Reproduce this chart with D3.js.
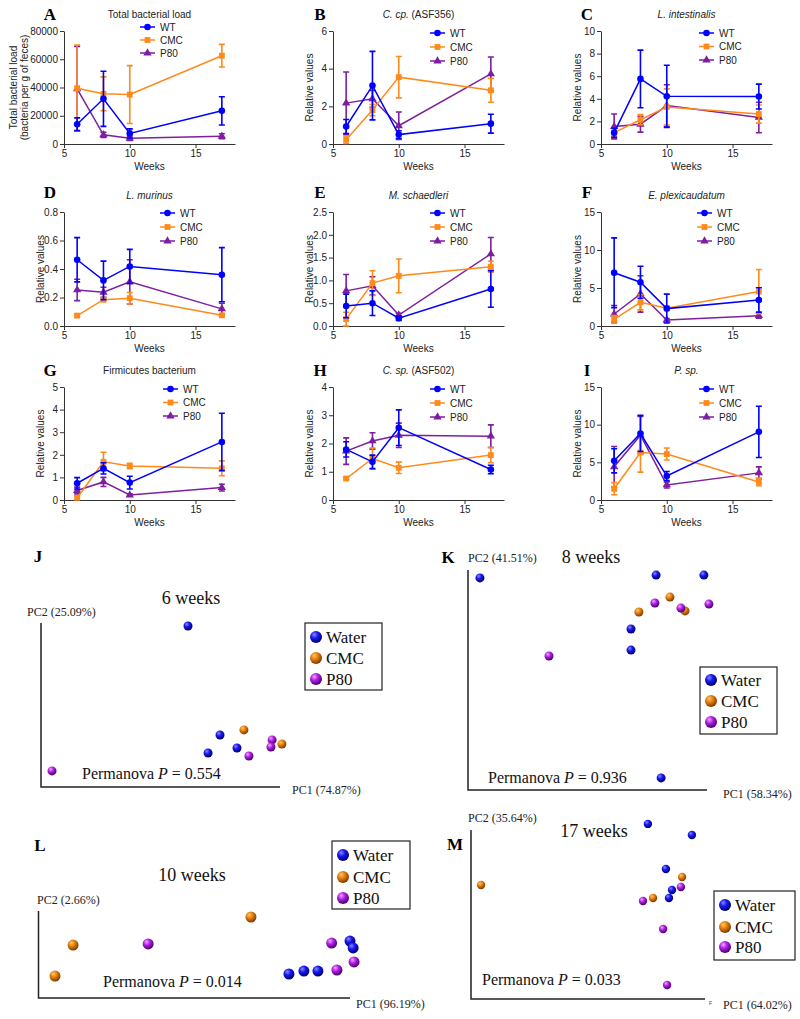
<!DOCTYPE html>
<html>
<head>
<meta charset="utf-8">
<script src="https://cdn.jsdelivr.net/npm/d3@7"></script>
<style>
  body { margin: 0; background: #fff; }
  svg { display: block; }
</style>
</head>
<body>
<svg width="800" height="1019"></svg>
<script>
// ---- data: time course (mean, sem), series order WT, CMC, P80
const weeks = [6, 8, 10, 17];
const groups = ["WT", "CMC", "P80"];
const groupColors = ["#0000ff", "#ff8a1a", "#7d1f9f"];

const loadMean = [[14000, 32000, 7500, 23500], [39500, 35500, 35000, 62500], [39000, 6500, 4000, 5500]];
const loadSem  = [[4500, 19500, 3200, 10000], [30500, 12000, 20500, 8000], [30000, 1800, 1500, 1800]];

const ccpMean = [[0.93, 3.1, 0.5, 1.08], [0.23, 1.8, 3.55, 2.85], [2.17, 2.4, 0.97, 3.72]];
const ccpSem  = [[0.37, 1.82, 0.2, 0.5], [0.2, 0.3, 1.1, 0.63], [1.65, 0.45, 0.73, 0.9]];

const lintMean = [[1.0, 5.76, 4.22, 4.2], [1.0, 2.15, 3.28, 2.65], [1.55, 1.75, 3.4, 2.35]];
const lintSem  = [[0.4, 2.55, 2.75, 1.1], [0.35, 0.45, 1.6, 0.8], [1.1, 0.7, 1.85, 1.35]];

const lmurMean = [[0.465, 0.32, 0.418, 0.36], [0.073, 0.185, 0.195, 0.075], [0.253, 0.237, 0.31, 0.12]];
const lmurSem  = [[0.155, 0.135, 0.12, 0.19], [0.012, 0.012, 0.04, 0.01], [0.075, 0.035, 0.155, 0.04]];

const mschMean = [[0.44, 0.5, 0.17, 0.81], [0.15, 0.94, 1.1, 1.3], [0.77, 0.88, 0.24, 1.58]];
const mschSem  = [[0.26, 0.27, 0.05, 0.4], [0.15, 0.27, 0.37, 0.12], [0.36, 0.2, 0.04, 0.36]];

const eplMean = [[7.0, 5.76, 2.29, 3.43], [0.88, 3.12, 2.33, 4.53], [1.58, 4.22, 0.79, 1.36]];
const eplSem  = [[4.6, 2.1, 1.9, 1.6], [0.5, 1.0, 0.3, 2.9], [1.1, 2.4, 0.2, 0.35]];

const firmMean = [[0.74, 1.4, 0.77, 2.57], [0.1, 1.69, 1.5, 1.4], [0.42, 0.8, 0.22, 0.55]];
const firmSem  = [[0.25, 0.25, 0.28, 1.27], [0.08, 0.42, 0.12, 0.33], [0.15, 0.2, 0.05, 0.15]];

const cspMean = [[1.79, 1.35, 2.56, 1.08], [0.76, 1.47, 1.14, 1.59], [1.73, 2.09, 2.29, 2.26]];
const cspSem  = [[0.27, 0.24, 0.63, 0.15], [0.04, 0.37, 0.2, 0.27], [0.47, 0.29, 0.43, 0.4]];

const pspMean = [[5.2, 8.83, 3.18, 9.05], [1.5, 6.3, 6.1, 2.4], [4.4, 8.6, 2.0, 3.6]];
const pspSem  = [[1.6, 2.4, 0.6, 3.4], [0.8, 2.6, 0.8, 0.5], [2.7, 2.5, 0.4, 0.8]];

// ---- data: PCoA positions, [PC1, PC2] in % of plotted axis span
const pcoaGroups = ["Water", "CMC", "P80"];
const j_water = [[61.5, 98.2], [74.9, 31.7], [69.9, 20.7], [82.0, 23.8]];
const j_cmc   = [[84.9, 34.8], [100.8, 26.2]];
const j_p80   = [[96.7, 28.7], [96.2, 24.4], [87.0, 18.9], [4.6, 9.8]];

const k_water = [[5.0, 96.4], [78.7, 97.7], [98.7, 97.7], [68.2, 73.2], [68.2, 63.6], [80.8, 5.5]];
const k_cmc   = [[71.5, 80.9], [84.5, 87.7], [90.8, 81.4]];
const k_p80   = [[78.2, 85.0], [89.1, 82.7], [100.8, 84.5], [33.9, 60.9]];

const l_water = [[80.4, 27.6], [85.2, 31.0], [89.7, 31.0], [100.0, 65.5], [101.0, 57.5]];
const l_cmc   = [[5.3, 25.3], [11.1, 60.9], [68.2, 93.1]];
const l_p80   = [[35.2, 62.1], [94.1, 63.2], [95.8, 32.2], [101.3, 41.4]];

const m_water = [[75.6, 103.6], [94.4, 97.0], [83.3, 76.9], [85.9, 64.5], [84.6, 59.8]];
const m_cmc   = [[4.3, 67.5], [90.2, 72.2], [77.8, 59.8]];
const m_p80   = [[89.7, 66.3], [73.5, 58.0], [82.1, 41.4], [83.8, 8.3]];

// ---- layout
const svg = d3.select("svg");
const sans = "'Liberation Sans', Arial, sans-serif";
const serif = "'Liberation Serif', 'Times New Roman', serif";

const colX = [64, 333, 601];
const rowY = [[31, 144], [212, 326], [387, 500]];

const linePanels = [
  {letter: "A", col: 0, row: 0, title: [["Total bacterial load", false]], ylab: ["Total bacterial load", "(bacteria per g of feces)"],
   mean: loadMean, sem: loadSem, ymax: 80000, ticks: [0, 20000, 40000, 60000, 80000], fmt: d3.format("d"), leg: [140, 27, 13]},
  {letter: "B", col: 1, row: 0, title: [["C. cp.", true], [" (ASF356)", false]], ylab: ["Relative values"],
   mean: ccpMean, sem: ccpSem, ymax: 6, ticks: [0, 2, 4, 6], fmt: d3.format("d"), leg: [430, 33, 14]},
  {letter: "C", col: 2, row: 0, title: [["L. intestinalis", true]], ylab: ["Relative values"],
   mean: lintMean, sem: lintSem, ymax: 10, ticks: [0, 2, 4, 6, 8, 10], fmt: d3.format("d"), leg: [699, 33, 13.5]},
  {letter: "D", col: 0, row: 1, title: [["L. murinus", true]], ylab: ["Relative values"],
   mean: lmurMean, sem: lmurSem, ymax: 0.8, ticks: [0, 0.2, 0.4, 0.6, 0.8], fmt: d3.format(".1f"), leg: [160, 213, 14]},
  {letter: "E", col: 1, row: 1, title: [["M. schaedleri", true]], ylab: ["Relative values"],
   mean: mschMean, sem: mschSem, ymax: 2.5, ticks: [0, 0.5, 1, 1.5, 2, 2.5], fmt: d3.format(".1f"), leg: [430, 213, 14]},
  {letter: "F", col: 2, row: 1, title: [["E. plexicaudatum", true]], ylab: ["Relative values"],
   mean: eplMean, sem: eplSem, ymax: 15, ticks: [0, 5, 10, 15], fmt: d3.format("d"), leg: [697, 213, 14]},
  {letter: "G", col: 0, row: 2, title: [["Firmicutes bacterium", false]], ylab: ["Relative values"],
   mean: firmMean, sem: firmSem, ymax: 5, ticks: [0, 1, 2, 3, 4, 5], fmt: d3.format("d"), leg: [163, 389, 13.5]},
  {letter: "H", col: 1, row: 2, title: [["C. sp.", true], [" (ASF502)", false]], ylab: ["Relative values"],
   mean: cspMean, sem: cspSem, ymax: 4, ticks: [0, 1, 2, 3, 4], fmt: d3.format("d"), leg: [430, 389, 14]},
  {letter: "I", col: 2, row: 2, title: [["P. sp.", true]], ylab: ["Relative values"],
   mean: pspMean, sem: pspSem, ymax: 15, ticks: [0, 5, 10, 15], fmt: d3.format("d"), leg: [699, 389, 14]}
];

const titleY = [14, 195, 370];
const letterY = [20, 198, 376];
const letterX = [50, 320, 587];

const symbols = [d3.symbolCircle, d3.symbolSquare, d3.symbolTriangle];
const symSize = [34, 34, 30];

function styleAxis(g) {
  g.selectAll("path, line").attr("stroke", "#333").attr("stroke-width", 1);
  g.selectAll("text").attr("fill", "#222").style("font-family", sans).style("font-size", "10px");
}

function linePanel(p) {
  let x0 = colX[p.col];
  let [yTop, yBot] = rowY[p.row];
  let x = d3.scaleLinear().domain([5, 18]).range([x0, x0 + 171]);
  let y = d3.scaleLinear().domain([0, p.ymax]).range([yBot, yTop]);
  let g = svg.append("g");

  g.append("g")
    .attr("transform", `translate(0,${yBot})`)
    .call(d3.axisBottom(x).tickValues([5, 10, 15]).tickSize(4).tickSizeOuter(0).tickPadding(2))
    .call(styleAxis);
  g.append("g")
    .attr("transform", `translate(${x0},0)`)
    .call(d3.axisLeft(y).tickValues(p.ticks).tickFormat(p.fmt).tickSize(4).tickSizeOuter(0).tickPadding(2))
    .call(styleAxis);

  // x title
  g.append("text")
    .attr("x", x0 + 85.5).attr("y", yBot + 22)
    .attr("text-anchor", "middle").attr("dominant-baseline", "central")
    .style("font-family", sans).style("font-size", "10px").attr("fill", "#222")
    .text("Weeks");

  // y title
  let yMid = (yTop + yBot) / 2;
  p.ylab.forEach((t, i) => {
    let lx = p.ylab.length == 2 ? 13 + i * 11 : x0 - 24;
    g.append("text")
      .attr("transform", `translate(${lx},${yMid}) rotate(-90)`)
      .attr("text-anchor", "middle").attr("dominant-baseline", "central")
      .style("font-family", sans).style("font-size", "10px").attr("fill", "#222")
      .text(t);
  });

  // panel title
  let tt = g.append("text")
    .attr("x", x0 + 85.5).attr("y", titleY[p.row])
    .attr("text-anchor", "middle").attr("dominant-baseline", "central")
    .style("font-family", sans).style("font-size", "10px").attr("fill", "#222");
  p.title.forEach(([s, it]) => tt.append("tspan").style("font-style", it ? "italic" : "normal").text(s));

  // letter
  g.append("text")
    .attr("x", letterX[p.col]).attr("y", letterY[p.row])
    .attr("text-anchor", "middle")
    .style("font-family", serif).style("font-weight", "bold").style("font-size", "17px")
    .text(p.letter);

  // series, drawn with WT last so it sits on top
  [2, 1, 0].forEach(k => {
    let col = groupColors[k];
    let pts = weeks.map((w, i) => ({w: w, m: p.mean[k][i], s: p.sem[k][i]}));
    let sg = g.append("g");
    sg.selectAll(".err")
      .data(pts)
      .enter()
      .append("path")
      .attr("class", "err")
      .attr("d", d => {
        let lo = y(Math.max(0, d.m - d.s)), hi = y(d.m + d.s), cx = x(d.w);
        return `M${cx},${lo}V${hi}M${cx - 3},${hi}H${cx + 3}M${cx - 3},${lo}H${cx + 3}`;
      })
      .attr("fill", "none").attr("stroke", col).attr("stroke-width", 1.6);
    sg.append("path")
      .datum(pts)
      .attr("d", d3.line().x(d => x(d.w)).y(d => y(d.m)))
      .attr("fill", "none").attr("stroke", col).attr("stroke-width", 1.5);
    sg.selectAll(".pt")
      .data(pts)
      .enter()
      .append("path")
      .attr("class", "pt")
      .attr("transform", d => `translate(${x(d.w)},${y(d.m)})`)
      .attr("d", d3.symbol().type(symbols[k]).size(symSize[k]))
      .attr("fill", col);
  });

  // legend
  let [lx, ly, dy] = p.leg;
  groups.forEach((name, k) => {
    let yy = ly + k * dy;
    g.append("line").attr("x1", lx).attr("x2", lx + 15).attr("y1", yy).attr("y2", yy)
      .attr("stroke", groupColors[k]).attr("stroke-width", 1.5);
    g.append("path").attr("transform", `translate(${lx + 7.5},${yy})`)
      .attr("d", d3.symbol().type(symbols[k]).size(symSize[k])).attr("fill", groupColors[k]);
    g.append("text").attr("x", lx + 20).attr("y", yy)
      .attr("dominant-baseline", "central")
      .style("font-family", sans).style("font-size", "10px").attr("fill", "#222")
      .text(name);
  });
}

linePanels.forEach(linePanel);

// ---- PCoA panels
const sphereColors = [
  ["#8a8aff", "#1818f0", "#00006a"],
  ["#ffc870", "#e8800c", "#7a3a00"],
  ["#f7a8ff", "#b020e8", "#4a0066"]
];
let defs = svg.append("defs");
sphereColors.forEach((c, i) => {
  let gr = defs.append("radialGradient").attr("id", "sph" + i)
    .attr("cx", "40%").attr("cy", "35%").attr("r", "65%").attr("fx", "35%").attr("fy", "30%");
  gr.append("stop").attr("offset", "0%").attr("stop-color", c[0]);
  gr.append("stop").attr("offset", "45%").attr("stop-color", c[1]);
  gr.append("stop").attr("offset", "100%").attr("stop-color", c[2]);
});

const pcoaPanels = [
  {letter: "J", lx: 38, ly: 562, title: "6 weeks", tx: 191, ty: 604, pc2: "PC2 (25.09%)", p2x: 27, p2y: 616,
   pc1: "PC1 (74.87%)", p1x: 292, p1y: 794, box: [41, 623, 280, 787], perm: "0.554", px: 82, py: 779,
   leg: [305, 623, 77, 67], legY: [637, 658, 679], r: 4.5, pts: [j_water, j_cmc, j_p80]},
  {letter: "K", lx: 448, ly: 563, title: "8 weeks", tx: 591, ty: 563, pc2: "PC2 (41.51%)", p2x: 468, p2y: 562,
   pc1: "PC1 (58.34%)", p1x: 723, p1y: 798, box: [468, 570, 707, 790], perm: "0.936", px: 488, py: 783,
   leg: [700, 667, 77, 67], legY: [680, 701, 722], r: 4.5, pts: [k_water, k_cmc, k_p80]},
  {letter: "L", lx: 40, ly: 851, title: "10 weeks", tx: 192, ty: 881, pc2: "PC2 (2.66%)", p2x: 37, p2y: 904,
   pc1: "PC1 (96.19%)", p1x: 356, p1y: 1008, box: [38.5, 911, 350, 998], perm: "0.014", px: 103, py: 987,
   leg: [332, 841, 78, 68], legY: [855, 877, 898], r: 5.5, pts: [l_water, l_cmc, l_p80]},
  {letter: "M", lx: 455, ly: 850, title: "17 weeks", tx: 594, ty: 837, pc2: "PC2 (35.64%)", p2x: 468, p2y: 822,
   pc1: "PC1 (64.02%)", p1x: 723, p1y: 1009, box: [471, 830, 705, 999], perm: "0.033", px: 482, py: 985,
   leg: [714, 891, 81, 69], legY: [905, 927, 947], r: 4.2, pts: [m_water, m_cmc, m_p80]}
];

function pcoaPanel(p) {
  let g = svg.append("g");
  let [bx0, by0, bx1, by1] = p.box;
  let x = d3.scaleLinear().domain([0, 100]).range([bx0, bx1]);
  let y = d3.scaleLinear().domain([0, 100]).range([by1, by0]);

  g.append("path")
    .attr("d", `M${bx0},${by0}V${by1}H${bx1}`)
    .attr("fill", "none").attr("stroke", "#222").attr("stroke-width", 1.5);

  g.append("text").attr("x", p.lx).attr("y", p.ly).attr("text-anchor", "middle")
    .style("font-family", serif).style("font-weight", "bold").style("font-size", "17px").text(p.letter);
  g.append("text").attr("x", p.tx).attr("y", p.ty).attr("text-anchor", "middle")
    .style("font-family", serif).style("font-size", "18px").attr("fill", "#111").text(p.title);
  g.append("text").attr("x", p.p2x).attr("y", p.p2y)
    .style("font-family", serif).style("font-size", "12px").attr("fill", "#222").text(p.pc2);
  g.append("text").attr("x", p.p1x).attr("y", p.p1y)
    .style("font-family", serif).style("font-size", "12px").attr("fill", "#222").text(p.pc1);
  let pt = g.append("text").attr("x", p.px).attr("y", p.py)
    .style("font-family", serif).style("font-size", "16px").attr("fill", "#111");
  pt.append("tspan").text("Permanova ");
  pt.append("tspan").style("font-style", "italic").text("P");
  pt.append("tspan").text(" = " + p.perm);

  p.pts.forEach((arr, k) => {
    g.selectAll(".s" + k)
      .data(arr)
      .enter()
      .append("circle")
      .attr("class", "s" + k)
      .attr("cx", d => x(d[0]))
      .attr("cy", d => y(d[1]))
      .attr("r", p.r)
      .attr("fill", `url(#sph${k})`);
  });

  let [lx, ly, lw, lh] = p.leg;
  g.append("rect").attr("x", lx).attr("y", ly).attr("width", lw).attr("height", lh)
    .attr("fill", "#fff").attr("stroke", "#222").attr("stroke-width", 1.2);
  pcoaGroups.forEach((name, k) => {
    g.append("circle").attr("cx", lx + 11).attr("cy", p.legY[k]).attr("r", 6)
      .attr("fill", `url(#sph${k})`);
    g.append("text").attr("x", lx + 21).attr("y", p.legY[k] + 6)
      .style("font-family", serif).style("font-size", "17px").attr("fill", "#111").text(name);
  });
}

pcoaPanels.forEach(pcoaPanel);

// stray mark next to the PC1 axis of panel M
svg.append("text").attr("x", 709).attr("y", 1005)
  .style("font-family", sans).style("font-size", "5px").attr("fill", "#444").text("F");
</script>
</body>
</html>
